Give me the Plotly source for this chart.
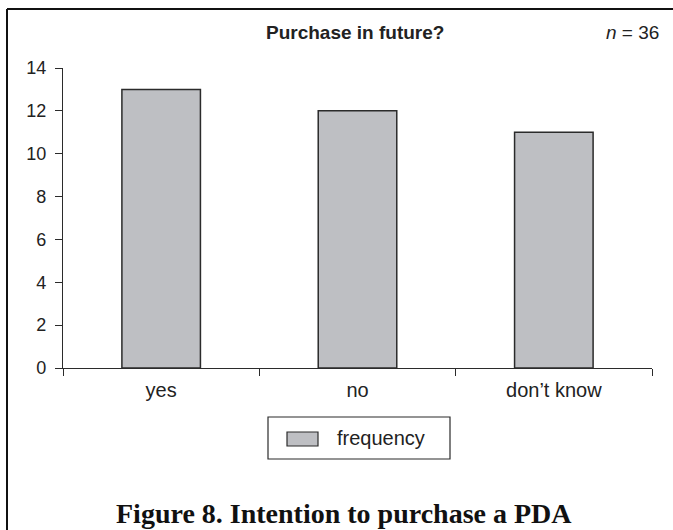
import plotly.graph_objects as go

# Survey responses: intention to purchase a PDA
categories = ["yes", "no", "don\u2019t know"]
frequency = [13, 12, 11]
series_name = "frequency"
y_ticks = [0, 2, 4, 6, 8, 10, 12, 14]
sample_size = 36

W, H = 673, 530
L, R, T, B = 63, 21, 68, 162
PW, PH = W - L - R, H - T - B


def px(x):
    return (x - L) / PW


def py(y):
    return (H - B - y) / PH


BAR_FILL = "#bebfc3"
EDGE = "#2b2b2b"
SANS = "Liberation Sans, Arial, sans-serif"

fig = go.Figure()
fig.add_trace(go.Bar(
    x=categories,
    y=frequency,
    name=series_name,
    width=0.4,
    marker=dict(color=BAR_FILL, line=dict(color=EDGE, width=1.5)),
    showlegend=False,
))

fig.update_layout(
    width=W, height=H,
    margin=dict(l=L, r=R, t=T, b=B),
    paper_bgcolor="white",
    plot_bgcolor="white",
    font=dict(family=SANS, size=18, color="#222"),
    xaxis=dict(
        type="category",
        range=[-0.5, 2.5],
        showline=True, linecolor=EDGE, linewidth=1.2,
        ticks="outside", tickson="boundaries", ticklen=7,
        tickcolor=EDGE, tickwidth=1.2,
        ticklabelstandoff=4,
        showgrid=False, zeroline=False,
        tickfont=dict(size=20, family=SANS, color="#222"),
    ),
    yaxis=dict(
        range=[0, 14],
        tickvals=y_ticks,
        showline=True, linecolor=EDGE, linewidth=1.2,
        ticks="outside", ticklen=7, tickcolor=EDGE, tickwidth=1.2,
        ticklabelstandoff=5,
        showgrid=False, zeroline=False,
        tickfont=dict(size=18, family=SANS, color="#222"),
    ),
    bargap=0.6,
)

shapes = [
    # outer frame (top and left edges)
    dict(type="line", xref="paper", yref="paper",
         x0=px(7), y0=py(9), x1=px(W + 5), y1=py(9),
         line=dict(color="#111", width=2)),
    dict(type="line", xref="paper", yref="paper",
         x0=px(7), y0=py(9), x1=px(7), y1=py(H + 5),
         line=dict(color="#111", width=2)),
    # legend box
    dict(type="rect", xref="paper", yref="paper",
         x0=px(268), y0=py(459), x1=px(450), y1=py(417),
         line=dict(color=EDGE, width=1.2), fillcolor="white"),
    # legend swatch
    dict(type="rect", xref="paper", yref="paper",
         x0=px(287), y0=py(446), x1=px(318), y1=py(432),
         line=dict(color=EDGE, width=1.2), fillcolor=BAR_FILL),
]

annotations = [
    dict(text="<b>Purchase in future?</b>", xref="paper", yref="paper",
         x=px(355), y=py(33), xanchor="center", yanchor="middle",
         showarrow=False, font=dict(family=SANS, size=19, color="#222")),
    dict(text=f"<i>n</i> = {sample_size}", xref="paper", yref="paper",
         x=px(661), y=py(33), xanchor="right", yanchor="middle",
         showarrow=False, font=dict(family=SANS, size=19, color="#222")),
    dict(text=series_name, xref="paper", yref="paper",
         x=px(335), y=py(438), xanchor="left", yanchor="middle",
         showarrow=False, font=dict(family=SANS, size=20, color="#222")),
    dict(text="<b>Figure 8. Intention to purchase a PDA</b>", xref="paper", yref="paper",
         x=px(344), y=py(513), xanchor="center", yanchor="middle",
         showarrow=False,
         font=dict(family="Liberation Serif, DejaVu Serif, serif", size=28, color="#111")),
]

fig.update_layout(shapes=shapes, annotations=annotations)

fig.write_html("out.html")
